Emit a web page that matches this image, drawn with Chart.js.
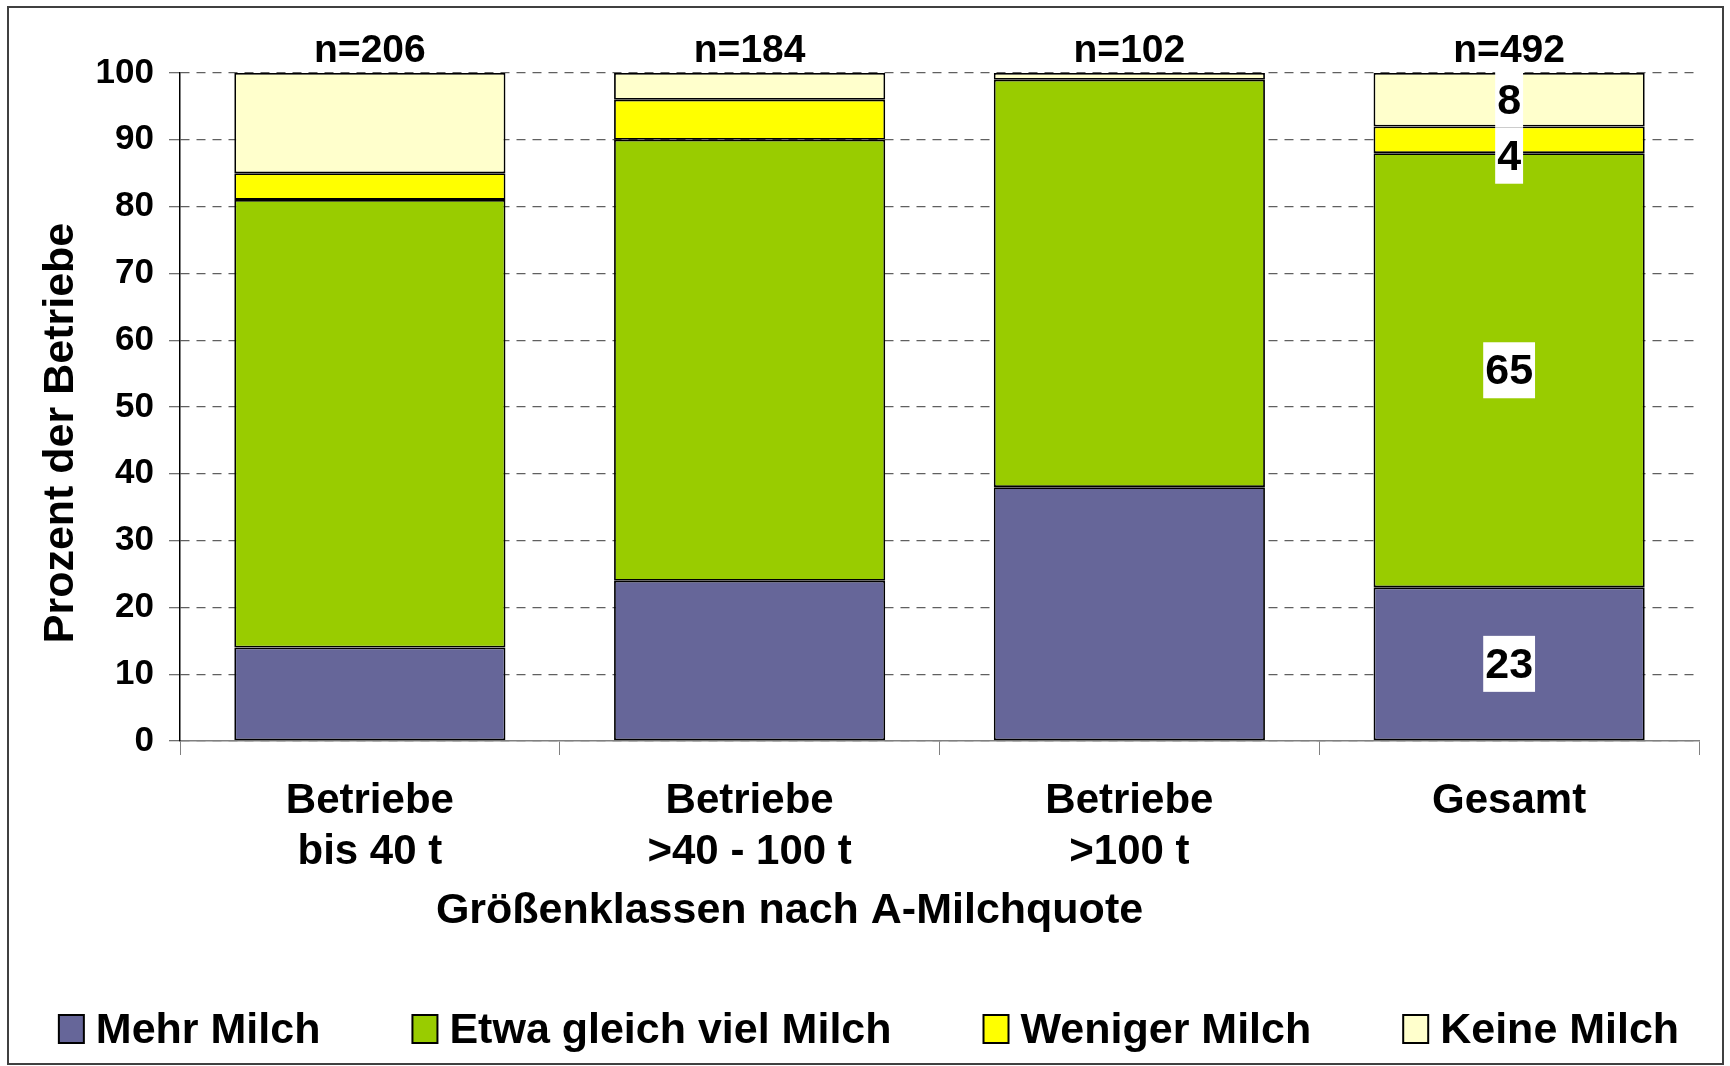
<!DOCTYPE html>
<html>
<head>
<meta charset="utf-8">
<script src="https://cdn.jsdelivr.net/npm/chart.js@4.4.1/dist/chart.umd.min.js"></script>
<style>
  html, body { margin: 0; padding: 0; background: #fff; }
  #wrap { width: 1730px; height: 1066px; }
</style>
</head>
<body>
<div id="wrap"><canvas id="milk" width="1730" height="1066"></canvas></div>
<script>
// Werte (Prozent der Betriebe)
const categories = [['Betriebe', 'bis 40 t'], ['Betriebe', '>40 - 100 t'], ['Betriebe', '>100 t'], ['Gesamt']];
const sampleSizes = [206, 184, 102, 492];
const mehrMilch = [14, 24, 38, 23];
const gleichMilch = [67, 66, 61, 65];
const wenigerMilch = [4, 6, 0, 4];
const keineMilch = [15, 4, 1, 8];
const yTickStep = 10;
const labelledColumn = 3; // nur "Gesamt" hat Zahlen in den Balken

const FONT = '"Liberation Sans", Arial, Helvetica, sans-serif';
Chart.defaults.font.family = FONT;
Chart.defaults.color = '#000';

const plotTop = 73, plotBottom = 741, plotLeft = 180, plotRight = 1699;

const frame = {
  id: 'frame',
  beforeDraw(chart) {
    const c = chart.ctx;
    c.save();
    c.fillStyle = '#fff';
    c.fillRect(0, 0, chart.width, chart.height);
    c.restore();
  },
  afterDraw(chart) {
    const c = chart.ctx;
    c.save();
    c.strokeStyle = '#404040';
    c.lineWidth = 2;
    c.strokeRect(8, 7, chart.width - 15, chart.height - 9);
    c.restore();
  }
};

// n= über den Balken, Zahlen im Gesamt-Balken
const barTexts = {
  id: 'barTexts',
  afterDatasetsDraw(chart) {
    const c = chart.ctx;
    const y = chart.scales.y;
    c.save();
    c.textAlign = 'center';
    c.textBaseline = 'middle';
    c.fillStyle = '#000';
    c.font = 'bold 39px ' + FONT;
    sampleSizes.forEach((n, i) => {
      const el = chart.getDatasetMeta(0).data[i];
      let total = 0;
      chart.data.datasets.forEach(ds => total += ds.data[i]);
      c.fillText('n=' + n, el.x, y.getPixelForValue(total) - 22);
    });

    c.font = 'bold 43px ' + FONT;
    const h = 56;
    let prevBottom = -Infinity;
    for (let d = chart.data.datasets.length - 1; d >= 0; d--) {
      const v = chart.data.datasets[d].data[labelledColumn];
      if (!v) continue;
      const el = chart.getDatasetMeta(d).data[labelledColumn];
      let cy = (el.y + el.base) / 2;
      if (cy - h / 2 < prevBottom) cy = prevBottom + h / 2;
      const txt = String(v);
      const w = c.measureText(txt).width + 4;
      c.fillStyle = '#fff';
      c.fillRect(el.x - w / 2, cy - h / 2, w, h);
      c.fillStyle = '#000';
      c.fillText(txt, el.x, cy + 2);
      prevBottom = cy + h / 2;
    }
    c.restore();
  }
};

const axisTitles = {
  id: 'axisTitles',
  afterDraw(chart) {
    const c = chart.ctx;
    const a = chart.chartArea;
    c.save();
    c.fillStyle = '#000';
    c.font = 'bold 43px ' + FONT;
    c.textAlign = 'center';
    c.textBaseline = 'middle';
    c.fillText('Größenklassen nach A-Milchquote', (a.left + a.right) / 2 - 150, 911);
    c.translate(61, (a.top + a.bottom) / 2 + 26);
    c.rotate(-Math.PI / 2);
    c.fillText('Prozent der Betriebe', 0, 0);
    c.restore();
  }
};

const legendBoxes = {
  id: 'legendBoxes',
  afterDraw(chart) {
    const c = chart.ctx;
    c.save();
    c.font = 'bold 43px ' + FONT;
    const bw = 25, bh = 28, gapText = 12, gapItem = 92, cy = 1029;
    const sets = chart.data.datasets;
    const widths = sets.map(ds => c.measureText(ds.label).width);
    const total = widths.reduce((s, w) => s + bw + gapText + w, 0) + gapItem * (sets.length - 1);
    let x = (chart.width - total) / 2 + 4;
    sets.forEach((ds, i) => {
      c.fillStyle = ds.backgroundColor;
      c.fillRect(x, cy - bh / 2, bw, bh);
      c.lineWidth = 2;
      c.strokeStyle = '#000';
      c.strokeRect(x, cy - bh / 2, bw, bh);
      c.fillStyle = '#000';
      c.textAlign = 'left';
      c.textBaseline = 'middle';
      c.fillText(ds.label, x + bw + gapText, cy + 2);
      x += bw + gapText + widths[i] + gapItem;
    });
    c.restore();
  }
};

const bar = (label, data, color) => ({
  label, data,
  backgroundColor: color,
  borderColor: '#000',
  borderWidth: 1.8,
  borderSkipped: false,
  categoryPercentage: 1,
  barPercentage: 0.714
});

new Chart(document.getElementById('milk'), {
  type: 'bar',
  data: {
    labels: categories,
    datasets: [
      bar('Mehr Milch', mehrMilch, '#666699'),
      bar('Etwa gleich viel Milch', gleichMilch, '#99CC00'),
      bar('Weniger Milch', wenigerMilch, '#FFFF00'),
      bar('Keine Milch', keineMilch, '#FFFFCC')
    ]
  },
  options: {
    responsive: false,
    animation: false,
    layout: { padding: { top: plotTop, right: 1730 - plotRight, left: 0, bottom: 0 } },
    plugins: {
      legend: { display: false },
      tooltip: { enabled: false }
    },
    scales: {
      x: {
        stacked: true,
        afterFit: s => { s.height = s.chart.height - plotBottom; },
        grid: { drawOnChartArea: false, drawTicks: true, tickLength: 14, color: '#808080', tickColor: '#808080' },
        border: { display: true, color: '#808080', width: 1.5 },
        ticks: {
          font: { size: 42, weight: 'bold', lineHeight: 1.22 },
          color: '#000',
          padding: 21,
          maxRotation: 0,
          autoSkip: false
        }
      },
      y: {
        stacked: true,
        min: 0,
        max: 100,
        afterFit: s => { s.width = plotLeft; },
        grid: { color: '#606060', lineWidth: 1.3, tickLength: 11, tickColor: '#707070', tickBorderDash: [] },
        border: { display: true, color: '#000', width: 1.5, dash: [9, 7] },
        ticks: {
          stepSize: yTickStep,
          font: { size: 35, weight: 'bold' },
          color: '#000',
          padding: 15
        }
      }
    }
  },
  plugins: [frame, barTexts, axisTitles, legendBoxes]
});
</script>
</body>
</html>
